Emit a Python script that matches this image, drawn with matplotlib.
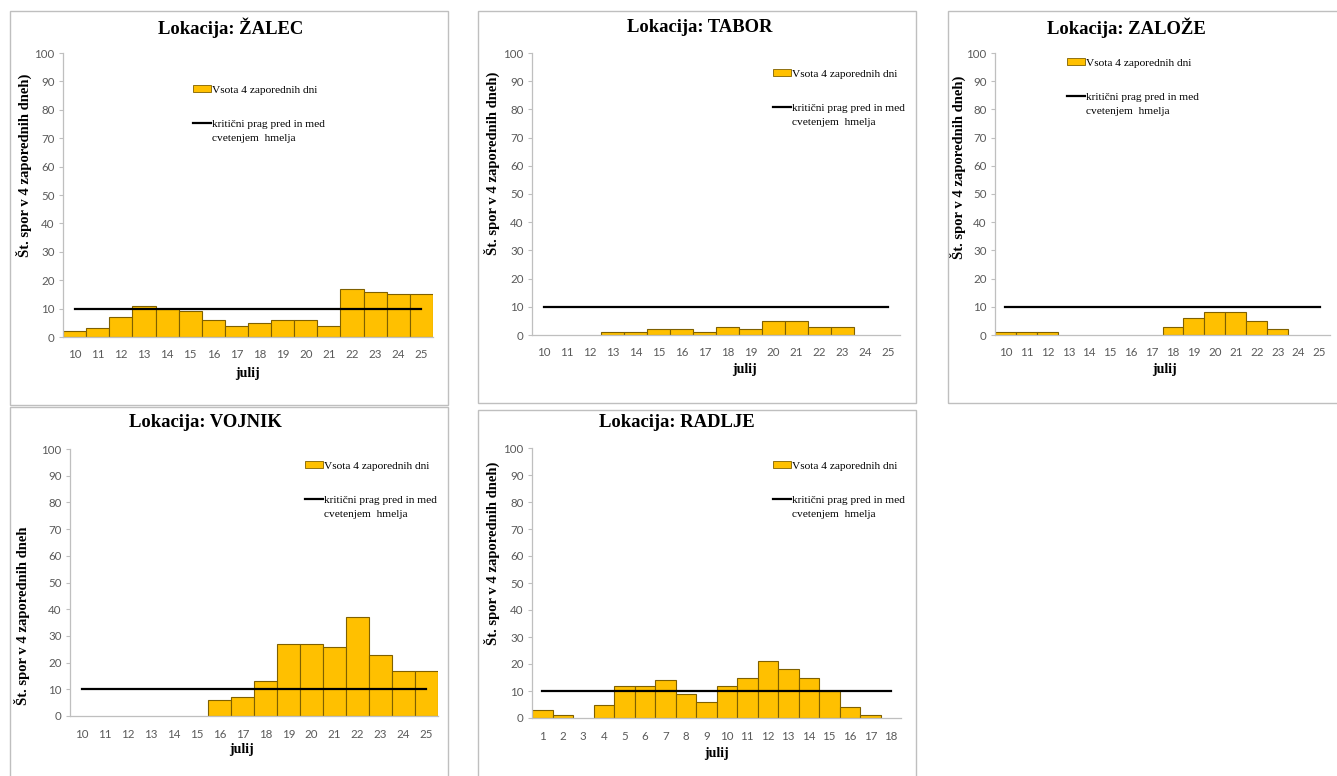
import numpy as np
import matplotlib
matplotlib.use('Agg')
from matplotlib import pyplot as plt
from matplotlib.patches import Rectangle, Patch
from matplotlib.lines import Line2D
from matplotlib.legend_handler import HandlerLine2D

W, H = 1337, 776

# spore counts (sum over 4 consecutive days)
days_jul = list(range(10, 26))
days_radlje = list(range(1, 19))
zalec = [2, 3, 7, 11, 10, 9, 6, 4, 5, 6, 6, 4, 17, 16, 15, 15]
tabor = [0, 0, 0, 1, 1, 2, 2, 1, 3, 2, 5, 5, 3, 3, 0, 0]
zaloze = [1, 1, 1, 0, 0, 0, 0, 0, 3, 6, 8, 8, 5, 2, 0, 0]
vojnik = [0, 0, 0, 0, 0, 0, 6, 7, 13, 27, 27, 26, 37, 23, 17, 17]
radlje = [3, 1, 0, 5, 12, 12, 14, 9, 6, 12, 15, 21, 18, 15, 10, 4, 1, 0]
threshold = 10

bar_label = 'Vsota 4 zaporednih dni'
line_label = 'kritični prag pred in med\ncvetenjem  hmelja'
ylab = 'Št. spor v 4 zaporednih dneh)'

# layout in pixels: axes box (l, t, r, b), title, ylabel, legend, xlabel, frame
panels = [
    dict(name='ŽALEC', days=days_jul, vals=zalec, ylabel=ylab,
         ax=(63, 53, 433, 337), title=(231, 28), yl=(24, 165),
         leg=(193, 88), xl=(248, 373), frame=(10, 11, 448, 405)),
    dict(name='TABOR', days=days_jul, vals=tabor, ylabel=ylab,
         ax=(532, 53, 900, 335), title=(700, 28), yl=(492, 163),
         leg=(773, 72), xl=(745, 370), frame=(478, 11, 916, 403)),
    dict(name='ZALOŽE', days=days_jul, vals=zaloze, ylabel=ylab,
         ax=(995, 53, 1330, 335), title=(1126, 28), yl=(958, 167),
         leg=(1067, 61), xl=(1165, 370), frame=(948, 11, 1345, 403)),
    dict(name='VOJNIK', days=days_jul, vals=vojnik,
         ylabel='Št. spor v 4 zaporednih dneh',
         ax=(70, 449, 438, 716), title=(205, 423), yl=(22, 616),
         leg=(305, 464), xl=(242, 750), frame=(10, 407, 448, 790)),
    dict(name='RADLJE', days=days_radlje, vals=radlje, ylabel=ylab,
         ax=(532, 448, 901, 718), title=(677, 423), yl=(492, 553),
         leg=(773, 464), xl=(717, 753), frame=(478, 410, 916, 790)),
]

SERIF = 'Liberation Serif'
SANS = 'Lato'
BAR = '#FFC000'
EDGE = '#7F6000'
GRID = '#BFBFBF'
TICK = '#595959'
LEG_SIZE = 8.2
LINE_SPACING = 1.75


class FirstLineHandler(HandlerLine2D):
    # put the line key next to the first line of a two-line label
    def create_artists(self, legend, orig_handle, xdescent, ydescent,
                       width, height, fontsize, trans):
        shift = LINE_SPACING * 0.76 * fontsize
        return super().create_artists(legend, orig_handle, xdescent,
                                      ydescent - shift,
                                      width, height, fontsize, trans)


def fx(px):
    return px / W


def fy(py):
    return 1 - py / H


fig = plt.figure(figsize=(W / 100, H / 100), dpi=100)
fig.patch.set_facecolor('white')

for p in panels:
    l, t, r, b = p['frame']
    fig.add_artist(Rectangle((fx(l), fy(b)), fx(r - l), (b - t) / H,
                             transform=fig.transFigure, fill=False,
                             ec=GRID, lw=1.0))

    l, t, r, b = p['ax']
    ax = fig.add_axes([fx(l), fy(b), fx(r - l), (b - t) / H])
    days = p['days']
    vals = np.array(p['vals'])
    x = np.arange(len(days))
    edges = [EDGE if v > 0 else 'none' for v in vals]
    ax.bar(x, vals, width=1.0, color=BAR, edgecolor=edges, linewidth=0.8,
           zorder=2)
    ax.plot([x[0], x[-1]], [threshold, threshold], color='black', lw=1.6,
            zorder=3)

    ax.set_xlim(-0.5, len(days) - 0.5)
    ax.set_ylim(0, 100)
    ax.set_yticks(range(0, 101, 10))
    ax.set_xticks(x)
    ax.set_xticklabels([str(d) for d in days])
    for s in ('top', 'right'):
        ax.spines[s].set_visible(False)
    for s in ('left', 'bottom'):
        ax.spines[s].set_color(GRID)
        ax.spines[s].set_linewidth(0.9)
    ax.tick_params(axis='y', length=3, width=0.8, color=GRID, pad=3,
                   labelsize=8.3, labelcolor=TICK)
    ax.tick_params(axis='x', length=0, pad=9, labelsize=8.3, labelcolor=TICK)
    for lab in ax.get_xticklabels() + ax.get_yticklabels():
        lab.set_fontfamily(SANS)

    ax.set_ylabel(p['ylabel'], family=SERIF, fontweight='bold', fontsize=10.5,
                  va='center')
    ax.yaxis.set_label_coords((p['yl'][0] - l) / (r - l),
                              (b - p['yl'][1]) / (b - t))
    ax.set_xlabel('julij', family=SERIF, fontweight='bold', fontsize=10,
                  va='center')
    ax.xaxis.set_label_coords((p['xl'][0] - l) / (r - l),
                              (b - p['xl'][1]) / (b - t))

    fig.text(fx(p['title'][0]), fy(p['title'][1]), 'Lokacija: ' + p['name'],
             family=SERIF, fontweight='bold', fontsize=13.4,
             ha='center', va='center')

    handles = [Patch(facecolor=BAR, edgecolor=EDGE, linewidth=0.6),
               Line2D([], [], color='black', lw=1.6)]
    lx, ly = p['leg']
    leg = ax.legend(handles, [bar_label, line_label], loc='upper left',
                    bbox_to_anchor=(fx(lx), fy(ly - 3)),
                    bbox_transform=fig.transFigure, frameon=False,
                    prop={'family': SERIF, 'size': LEG_SIZE}, borderpad=0,
                    borderaxespad=0, handlelength=1.6, handleheight=0.6,
                    handletextpad=0.1, labelspacing=2.2,
                    handler_map={Line2D: FirstLineHandler()})
    for txt in leg.get_texts():
        txt.set_linespacing(LINE_SPACING)

fig.savefig('out.png', dpi=100, facecolor='white')
